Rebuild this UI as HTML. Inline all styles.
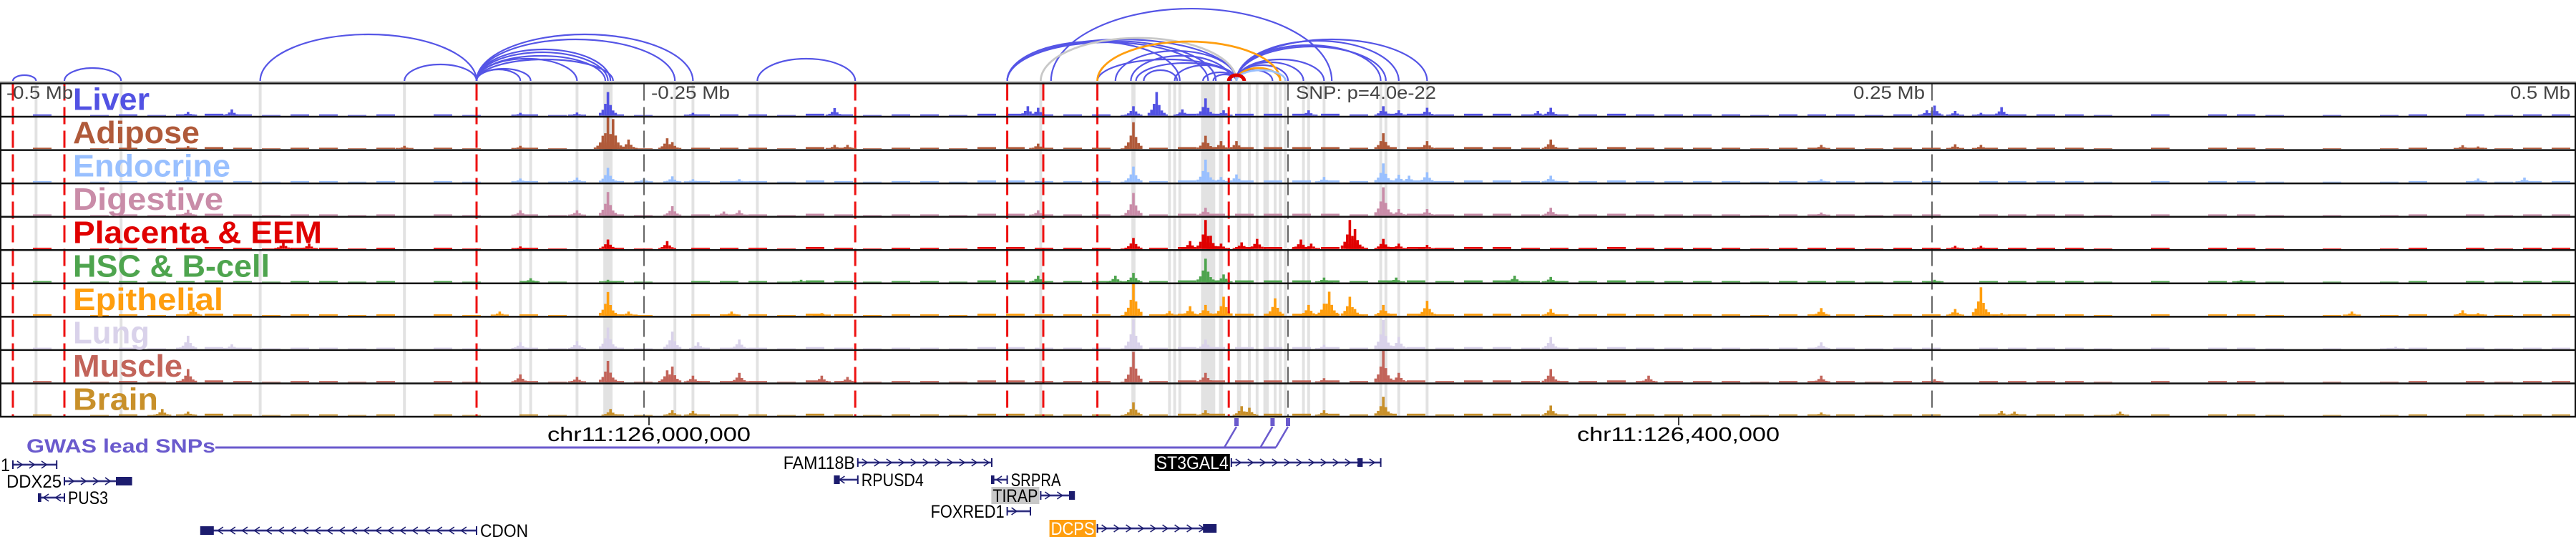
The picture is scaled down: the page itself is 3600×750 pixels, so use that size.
<!DOCTYPE html>
<html><head><meta charset="utf-8"><style>
html,body{margin:0;padding:0;background:#fff;}
svg{display:block;font-family:"Liberation Sans","DejaVu Sans",sans-serif;}
</style></head><body>
<svg id="chart" width="3600" height="750" viewBox="0 0 3600 750" xmlns="http://www.w3.org/2000/svg">
<g id="bands"></g>
<g id="bg"></g>
<g id="reds"></g>
<g id="ticks"></g>
<g id="borders"></g>
<g id="arcs"></g>
<g id="labels"></g>
<g id="axis">
<text x="9" y="138" font-size="25" fill="#444" textLength="93" lengthAdjust="spacingAndGlyphs">-0.5 Mb</text>
<text x="910" y="138" font-size="25" fill="#444" textLength="110" lengthAdjust="spacingAndGlyphs">-0.25 Mb</text>
<text x="1811" y="138" font-size="25" fill="#444" textLength="196" lengthAdjust="spacingAndGlyphs">SNP: p=4.0e-22</text>
<text x="2590" y="138" font-size="25" fill="#444" textLength="100" lengthAdjust="spacingAndGlyphs">0.25 Mb</text>
<text x="3508" y="138" font-size="25" fill="#444" textLength="84" lengthAdjust="spacingAndGlyphs">0.5 Mb</text>
<text x="765" y="616" font-size="28" fill="#000" textLength="284" lengthAdjust="spacingAndGlyphs">chr11:126,000,000</text>
<text x="2204" y="616" font-size="28" fill="#000" textLength="283" lengthAdjust="spacingAndGlyphs">chr11:126,400,000</text>
<line x1="907" y1="582" x2="907" y2="594" stroke="#000" stroke-width="1.5"/>
<line x1="2346" y1="582" x2="2346" y2="594" stroke="#000" stroke-width="1.5"/>
</g>
<g id="gwas">
<text x="37" y="632" font-size="27" font-weight="bold" fill="#6a5acd" textLength="264" lengthAdjust="spacingAndGlyphs">GWAS lead SNPs</text>
</g>
<g id="genes"></g>
</svg>
<script>
// ---- data ----
const trackNames = ["Liver","Adipose","Endocrine","Digestive","Placenta & EEM","HSC & B-cell","Epithelial","Lung","Muscle","Brain"];
const trackColors = ["#5252e3","#b05a3a","#99c0ff","#c98ca8","#e00000","#4ea44e","#ff9e0e","#d9d2ea","#c2645a","#c8902a"];
const labelWidths = [107,177,220,210,348,275,210,107,153,119];
const bgLevels = [0,2,0,1,2,1,2,3,2,1, 2,2,1,2,0,2,1,0,2,1, 0,2,1,0,2,2,2,1,3,2, 1,2,2,1,3,3,2,2,2,1, 2,3,3,3,3,3,3,2,3,3, 2,3,3,2,2,2,3,2,2,2, 2,1,2,2,2,1,2,2,0,2, 2,2,2,1,0,2,0,2,2,1, 0,1,0,1,2,0,2,1,2,2];
const liverPeaks = [[-427,12],[-410,20],[-298,9],[-276,10],[-264,75],[-231,9],[-176,24],[-101,30],[-97,25],[-60,30],[-51,75],[-41,20],[-32,55],[-25,17],[8,17],[37,30],[43,17],[54,25],[97,15],[102,25],[248,17],[251,32],[259,15],[269,9],[277,27]];
const adiposePeaks = [[-427,9],[-343,10],[-298,10],[-266,42],[-264,100],[-262,95],[-256,30],[-241,34],[-239,22],[-176,13],[-171,13],[-97,17],[-60,85],[-32,42],[-26,25],[-20,25],[37,50],[54,25],[102,30],[207,13],[259,15],[269,13],[456,12],[462,8]];
const endocrinePeaks = [[-427,17],[-298,12],[-276,15],[-264,46],[-250,12],[-239,19],[-231,10],[-213,10],[-60,50],[-32,72],[-26,17],[-20,25],[14,17],[37,60],[43,24],[47,21],[54,32],[102,21],[207,10],[462,12],[480,15]];
const digestivePeaks = [[-427,19],[-298,17],[-276,17],[-264,75],[-239,30],[-219,13],[-213,17],[-97,17],[-60,72],[-32,25],[37,90],[43,21],[54,21],[102,25],[207,10]];
const placentaPeaks = [[-390,21],[-380,17],[-298,8],[-264,30],[-241,25],[-60,35],[-38,25],[-32,92],[-30,42],[-26,17],[-18,21],[-12,32],[5,30],[9,17],[24,92],[26,63],[37,32],[43,17],[54,13],[259,10],[269,10]];
const hscPeaks = [[-294,13],[-264,8],[-189,8],[-97,21],[-67,21],[-60,30],[-32,75],[-25,25],[14,15],[42,15],[88,21],[102,17],[251,8],[370,7]];
const epithelialPeaks = [[-425,25],[-306,13],[-264,75],[-256,13],[-216,13],[-181,8],[-60,100],[-46,15],[-38,30],[-32,34],[-25,60],[-5,55],[8,34],[14,38],[16,76],[24,60],[26,21],[37,34],[54,47],[102,21],[207,24],[259,21],[269,90],[277,8],[413,13],[456,17],[462,8]];
const lungPeaks = [[-427,42],[-410,15],[-298,21],[-276,25],[-264,68],[-239,55],[-229,21],[-213,30],[-60,93],[-32,30],[14,13],[37,92],[43,38],[102,38],[207,21],[430,7]];
const musclePeaks = [[-427,42],[-298,25],[-276,17],[-264,68],[-241,38],[-239,50],[-231,21],[-213,30],[-181,21],[-171,17],[-60,97],[-32,30],[14,13],[37,100],[43,30],[102,42],[140,21],[207,21],[251,10]];
const brainPeaks = [[-437,21],[-427,13],[-263,21],[-239,17],[-231,15],[-60,42],[-32,17],[-18,30],[-15,25],[14,17],[37,60],[102,32],[207,10],[277,15],[282,13],[323,13]];
const allPeaks = [liverPeaks,adiposePeaks,endocrinePeaks,digestivePeaks,placentaPeaks,hscPeaks,epithelialPeaks,lungPeaks,musclePeaks,brainPeaks];
const bandPos = [-486,-453,-399,-343,-298,-294,-276,-264,-238,-231,-206,-96,-60,-46,-44,-42,-31,-26,-19,-15,-12,-9,-8,-5,-3,-1,6,8,14,36,38,43,54];
const bandWidth = [1.1,1.1,1.1,1.1,1.1,1.1,1.1,3.6,1.1,1.1,1.1,1.1,1.6,1.1,1.1,1.1,5.5,1.6,1.6,1.1,1.1,1.1,1.1,1.1,1.1,1.1,1.1,1.1,1.1,1.1,1.1,1.1,1.1];
const redPos = [-495,-475,-315,-168,-109,-95,-74,-23];
const tickPos = [-250,0,250];
const arcStart = [-495,-475,-399,-343,-315,-315,-315,-315,-315,-315,-315,-315,-315,-206,-109,-109,-109,-109,-92,-74,-67,-61,-59,-56,-44,-33,-29,-20,-20,-20,-20,-20,-20,-20,-20,-96,-74,-20,-20,-23];
const arcEnd   = [-486,-453,-315,-315,-298,-294,-276,-265,-264,-263,-262,-238,-231,-168,-20,-28,-31,-42,17,-20,-20,-22,-20,-43,-20,-20,-20,14,36,38,43,54,0,-6,6,-20,-3,-3,-1,-17];
const arcHeight= [8,18,65,23,16,17,31,35,40,44,30,58,65,31,58,56,54,55,101,30,42,35,25,15,22,12,9,30,50,48,56,58,22,15,26,60,55,18,15,8];
const arcType  = ["b","b","b","b","b","b","b","b","b","b","b","b","b","b","b","b","b","b","b","b","b","b","b","b","b","b","b","b","b","b","b","b","b","b","b","g","o","o","l","r"];
const snpPos = [-20,-6,0];
const genes = [
 {name:"1",s:-495,e:-478,y:649,str:1,box:null,lab:"left",lw:13},
 {name:"DDX25",s:-475,e:-449,y:672,str:1,box:[-455,-449],lab:"left",lw:77},
 {name:"PUS3",s:-485,e:-475,y:695,str:-1,box:[-485,-484],lab:"right",lw:56},
 {name:"CDON",s:-422,e:-315,y:741,str:-1,box:[-422,-417],lab:"right",lw:67},
 {name:"FAM118B",s:-167,e:-115,y:646,str:1,box:null,lab:"left",lw:100},
 {name:"RPUSD4",s:-176,e:-167,y:670,str:-1,box:[-176,-174],lab:"right",lw:87},
 {name:"SRPRA",s:-115,e:-109,y:670,str:-1,box:[-115,-114],lab:"right",lw:70},
 {name:"TIRAP",s:-96,e:-83,y:692,str:1,box:[-85,-83],lab:"left",lw:63,bg:"#c8c8c8",fg:"#000"},
 {name:"FOXRED1",s:-109,e:-100,y:714,str:1,box:null,lab:"left",lw:103},
 {name:"DCPS",s:-74,e:-28,y:738,str:1,box:[-33,-28],lab:"left",lw:61,bg:"#ff9e0e",fg:"#fff"},
 {name:"ST3GAL4",s:-22,e:36,y:646,str:1,box:[27,29],lab:"left",lw:101,bg:"#000",fg:"#fff"}
];
// ---- scales ----
const NS="http://www.w3.org/2000/svg";
const TOP=116.5, TH=46.55, NT=10, BOTTOM=TOP+TH*NT;
function xs(kb){return 1800+kb*3.6;}
function hs(v){return v/100*44;}
function mk(tag,attrs,parent){const e=document.createElementNS(NS,tag);for(const k in attrs)e.setAttribute(k,attrs[k]);parent.appendChild(e);return e;}
const gBands=document.getElementById('bands'),gBg=document.getElementById('bg'),gReds=document.getElementById('reds'),gTicks=document.getElementById('ticks'),gBorders=document.getElementById('borders'),gArcs=document.getElementById('arcs'),gLabels=document.getElementById('labels'),gGwas=document.getElementById('gwas'),gGenes=document.getElementById('genes');
bandPos.forEach((p,i)=>{const w=bandWidth[i]*3.6;const r=mk('rect',{x:xs(p)-w/2,y:TOP,width:w,height:BOTTOM-TOP,fill:'#e2e2e2'},gBands);

});
for(let t=0;t<NT;t++){
 const base=TOP+TH*(t+1)-1.5;const col=trackColors[t];
 const g=mk('g',{},gBg);
 
 
 bgLevels.forEach((lv,i)=>{if(lv>0){mk('rect',{x:i*40+6,y:base-lv*0.9,width:26,height:lv*0.9,fill:col},g);}});
 allPeaks[t].forEach(pk=>{
  const cx=xs(pk[0]),h=hs(pk[1]);
  const parts=[[0,1],[-1,0.5],[1,0.45],[-2,0.25],[2,0.22],[-3,0.12],[3,0.12]];
  parts.forEach(pp=>{const hh=Math.max(h*pp[1],1.5);mk('rect',{x:cx+pp[0]*3.6-1.8,y:base-hh,width:3.6,height:hh,fill:col},g);});
 });
}
redPos.forEach(p=>{const l=mk('line',{x1:xs(p),y1:TOP,x2:xs(p),y2:BOTTOM,stroke:'#ee1111','stroke-width':3,'stroke-dasharray':'24 9'},gReds);

});
tickPos.forEach(p=>{const l=mk('line',{x1:xs(p),y1:TOP,x2:xs(p),y2:BOTTOM,stroke:'#666','stroke-width':2,'stroke-dasharray':'24 9'},gTicks);

});
mk('line',{x1:0,y1:114,x2:3600,y2:114,stroke:'#ccc','stroke-width':2},gBorders);
for(let t=0;t<=NT;t++){const y=TOP+TH*t;mk('line',{x1:0,y1:y,x2:3600,y2:y,stroke:'#111','stroke-width':2.5},gBorders);}
mk('line',{x1:1,y1:TOP,x2:1,y2:BOTTOM,stroke:'#111','stroke-width':2},gBorders);
mk('line',{x1:3599,y1:TOP,x2:3599,y2:BOTTOM,stroke:'#111','stroke-width':2},gBorders);
trackNames.forEach((n,t)=>{const tx=mk('text',{x:102,y:TOP+TH*t+37,'font-size':44,'font-weight':'bold',fill:trackColors[t],textLength:labelWidths[t],lengthAdjust:'spacingAndGlyphs'},gLabels);tx.textContent=n;

});
const arcCol={b:'#5555e6',g:'#c8c8c8',o:'#ff9e0e',l:'#99c0ff',r:'#e00000'};
arcStart.forEach((s,i)=>{const x1=xs(s),x2=xs(arcEnd[i]);const a=Math.min(x1,x2),b=Math.max(x1,x2);const rx=(b-a)/2,h=arcHeight[i];
 const p=mk('path',{d:`M${a},113 A${rx},${h} 0 0 1 ${b},113`,fill:'none',stroke:arcCol[arcType[i]],'stroke-width':arcType[i]==='r'?5:(arcType[i]==='b'?2.2:2.8)},gArcs);
 
 });
mk('line',{x1:301,y1:625,x2:xs(snpPos[2])-17,y2:625,stroke:'#6a5acd','stroke-width':3},gGwas);
snpPos.forEach(p=>{const x=xs(p);
 mk('line',{x1:x-17,y1:625,x2:x,y2:596,stroke:'#6a5acd','stroke-width':2.5},gGwas);
 const r=mk('rect',{x:x-3,y:584,width:6,height:11,fill:'#6a5acd'},gGwas);
 
 });
const GC='#1c1c6e';
genes.forEach(gd=>{
 const g=mk('g',{},gGenes);
 
 
 const x1=xs(gd.s),x2=xs(gd.e),y=gd.y;
 mk('line',{x1:x1,y1:y,x2:x2,y2:y,stroke:'#b8b8e0','stroke-width':4},g);
 mk('line',{x1:x1,y1:y,x2:x2,y2:y,stroke:GC,'stroke-width':1.8},g);
 mk('line',{x1:x1,y1:y-6,x2:x1,y2:y+6,stroke:GC,'stroke-width':2},g);
 mk('line',{x1:x2,y1:y-6,x2:x2,y2:y+6,stroke:GC,'stroke-width':2},g);
 for(let x=x1+10;x<x2-6;x+=17){const d=gd.str>0?`M${x-4},${y-5} L${x+3},${y} L${x-4},${y+5}`:`M${x+4},${y-5} L${x-3},${y} L${x+4},${y+5}`;mk('path',{d:d,fill:'none',stroke:GC,'stroke-width':1.6},g);}
 if(gd.box){mk('rect',{x:xs(gd.box[0]),y:y-6,width:Math.max(xs(gd.box[1])-xs(gd.box[0]),3),height:12,fill:GC},g);}
 let lx=gd.lab==='left'?x1-4-gd.lw:x2+5;
 if(gd.bg){mk('rect',{x:lx-2,y:y-12,width:gd.lw+4,height:24,fill:gd.bg},g);}
 const t=mk('text',{x:lx,y:y+9,'font-size':25,fill:gd.fg||'#000',textLength:gd.lw,lengthAdjust:'spacingAndGlyphs'},g);t.textContent=gd.name;
});
</script>
</body></html>
